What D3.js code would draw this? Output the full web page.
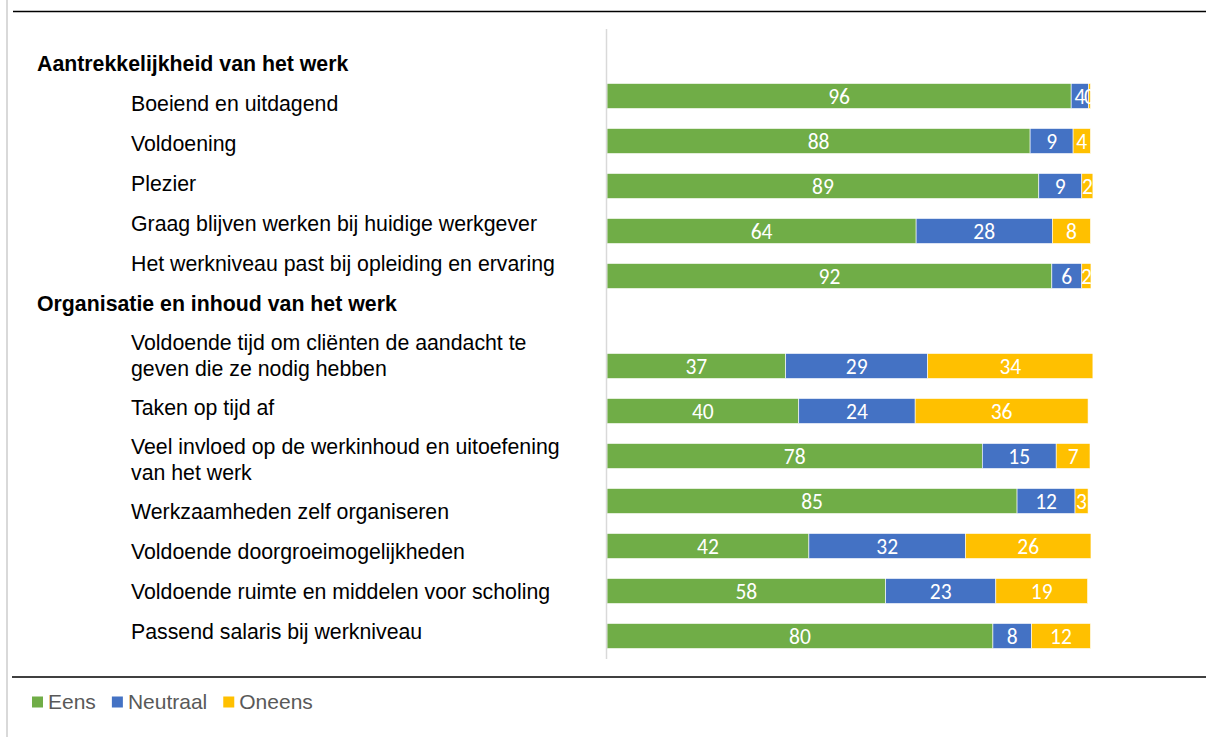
<!DOCTYPE html>
<html>
<head>
<meta charset="utf-8">
<script src="https://cdn.jsdelivr.net/npm/d3@7"></script>
<style>
  body { margin: 0; background: #fff; }
</style>
</head>
<body>
<div id="container"></div>
<script>
// rows of the table, group headers have no bars
var rows = [
	"Aantrekkelijkheid van het werk",
	"Boeiend en uitdagend",
	"Voldoening",
	"Plezier",
	"Graag blijven werken bij huidige werkgever",
	"Het werkniveau past bij opleiding en ervaring",
	"Organisatie en inhoud van het werk",
	"Voldoende tijd om cliënten de aandacht te geven die ze nodig hebben",
	"Taken op tijd af",
	"Veel invloed op de werkinhoud en uitoefening van het werk",
	"Werkzaamheden zelf organiseren",
	"Voldoende doorgroeimogelijkheden",
	"Voldoende ruimte en middelen voor scholing",
	"Passend salaris bij werkniveau"
];
var groupRows = ["Aantrekkelijkheid van het werk", "Organisatie en inhoud van het werk"];

var eens     = [null, 96.1, 87.6, 89.4, 64.0, 92.1, null, 37.0, 39.7, 77.7, 84.9, 41.8, 57.7, 79.9];
var neutraal = [null,  3.6,  8.9,  8.9, 28.2,  6.2, null, 29.4, 24.1, 15.3, 12.0, 32.4, 22.8,  8.0];
var oneens   = [null,  0.4,  3.6,  2.3,  7.9,  1.9, null, 34.2, 35.8,  7.0,  2.7, 26.0, 19.0, 12.2];

var seriesNames = ["Eens", "Neutraal", "Oneens"];
var colours = ["#70ad47", "#4472c4", "#ffc000"];

var width = 1206,
	height = 737;

var svg = d3.select("#container")
	.append("svg")
		.attr("width", width)
		.attr("height", height)
		.style("display", "block");

// frame
svg.append("line")
	.attr("x1", 7).attr("x2", 7).attr("y1", 0).attr("y2", height)
	.style("stroke", "#d9d9d9").style("stroke-width", 2);
svg.append("line")
	.attr("x1", 13).attr("x2", width).attr("y1", 11.5).attr("y2", 11.5)
	.style("stroke", "#000").style("stroke-width", 1.3);
svg.append("line")
	.attr("x1", 12).attr("x2", width).attr("y1", 677).attr("y2", 677)
	.style("stroke", "#000").style("stroke-width", 1.3);

var xScale = d3.scaleLinear()
	.domain([0, 100])
	.range([607, 1090]);

var yScale = d3.scaleBand()
	.domain(rows)
	.range([28.5, 658.5])
	.paddingInner(0.444)
	.paddingOuter(0.222);

var colour = d3.scaleOrdinal()
	.domain(seriesNames)
	.range(colours);

// table for the stack, only rows with values
var table = rows.map(function(r, i){
	return {row: r, Eens: eens[i], Neutraal: neutraal[i], Oneens: oneens[i]};
}).filter(function(d){ return d.Eens !== null; });

var stacked = d3.stack().keys(seriesNames)(table);

svg.append("defs").append("clipPath")
	.attr("id", "plotclip")
	.append("rect")
		.attr("x", 600).attr("y", 0)
		.attr("width", xScale(100) - 600 + 3).attr("height", height);

var layers = svg.append("g").selectAll("g")
	.data(stacked)
	.enter().append("g")
		.style("fill", function(d){ return colour(d.key); });

layers.selectAll("rect")
	.data(function(d){ return d; })
	.enter().append("rect")
		.attr("x", function(d){ return xScale(d[0]); })
		.attr("y", function(d){ return yScale(d.data.row); })
		.attr("width", function(d){ return xScale(d[1]) - xScale(d[0]); })
		.attr("height", yScale.bandwidth())
		.style("stroke", "#fff")
		.style("stroke-width", 0.6);

var valueLabels = svg.append("g")
	.attr("clip-path", "url(#plotclip)");

stacked.forEach(function(layer){
	valueLabels.selectAll(null)
		.data(layer)
		.enter().append("text")
			.attr("x", function(d){ return (xScale(d[0]) + xScale(d[1])) / 2; })
			.attr("y", function(d){ return yScale(d.data.row) + yScale.bandwidth() / 2; })
			.attr("dy", "0.36em")
			.attr("text-anchor", "middle")
			.style("font-family", "Carlito, Calibri, Lato, sans-serif")
			.style("font-size", "21.5px")
			.style("fill", "#fff")
			.text(function(d){ return Math.round(d[1] - d[0]); });
});

// vertical axis line
svg.append("g")
	.attr("transform", "translate(606,0)")
	.call(d3.axisLeft(yScale).tickSize(0).tickSizeOuter(0).tickFormat(""))
	.call(function(g){
		g.select(".domain").style("stroke", "#d9d9d9").style("stroke-width", 1.5);
	});

// category labels as a table on the left
var labelFont = "'Liberation Sans', Arial, sans-serif";
var maxLabelWidth = 445,
	lineHeight = 26;

var labelG = svg.append("g");
var rowTop = 44;
rows.forEach(function(r){
	var isGroup = groupRows.indexOf(r) >= 0;
	var lx = isGroup ? 37 : 131;
	var t = labelG.append("text")
		.attr("x", lx)
		.style("font-family", labelFont)
		.style("font-size", "21.3px")
		.style("font-weight", isGroup ? "bold" : "normal")
		.style("fill", "#000");
	// wrap words
	var words = r.split(" "), lines = [], cur = [];
	var probe = t.append("tspan");
	words.forEach(function(w){
		cur.push(w);
		probe.text(cur.join(" "));
		if (probe.node().getComputedTextLength() > maxLabelWidth && cur.length > 1) {
			cur.pop();
			lines.push(cur.join(" "));
			cur = [w];
		}
	});
	lines.push(cur.join(" "));
	probe.remove();
	var h = 16 + 24 * lines.length;
	var centre = rowTop + h / 2;
	lines.forEach(function(l, i){
		t.append("tspan")
			.attr("x", lx)
			.attr("y", centre + (i - (lines.length - 1) / 2) * lineHeight)
			.attr("dy", "0.35em")
			.text(l);
	});
	rowTop += h;
});

// legend
var legend = svg.append("g").attr("transform", "translate(32,702)");
var legX = 0;
seriesNames.forEach(function(name){
	legend.append("rect")
		.attr("x", legX).attr("y", -5.5)
		.attr("width", 11).attr("height", 11)
		.style("fill", colour(name));
	var txt = legend.append("text")
		.attr("x", legX + 16)
		.attr("dy", "0.35em")
		.style("font-family", labelFont)
		.style("font-size", "21px")
		.style("fill", "#595959")
		.text(name);
	legX += 16 + txt.node().getComputedTextLength() + 16;
});
</script>
</body>
</html>
